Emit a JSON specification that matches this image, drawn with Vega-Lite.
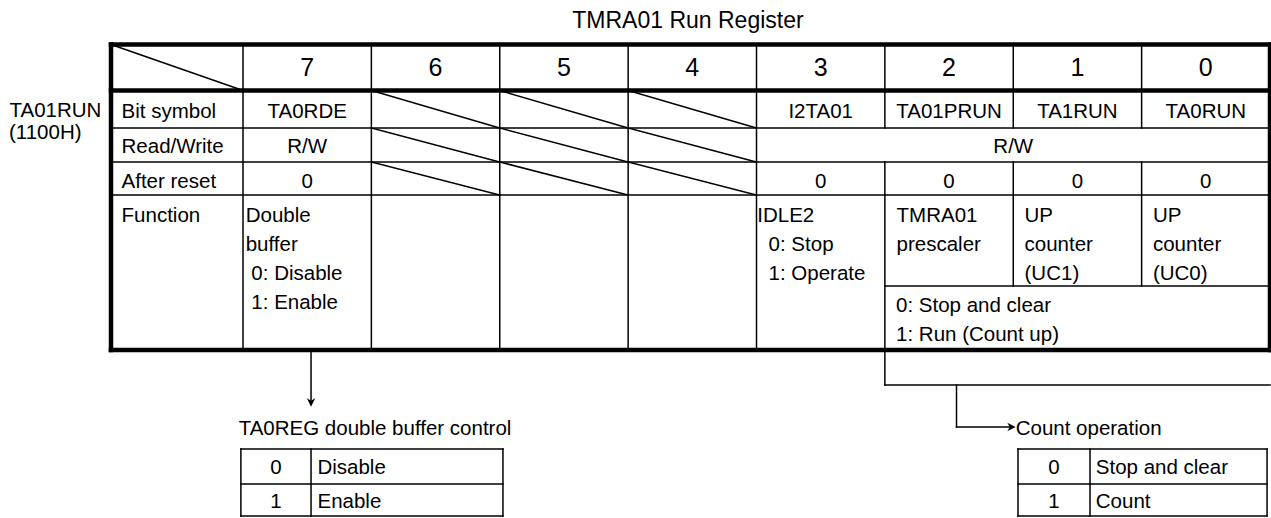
{
  "$schema": "https://vega.github.io/schema/vega-lite/v6.json",
  "width": 1271,
  "height": 518,
  "autosize": "none",
  "padding": 0,
  "background": "white",
  "config": {"view": {"stroke": null}, "text": {"font": "Liberation Sans", "color": "black"}},
  "datasets": {
    "lines": [
      {"x": -1, "y": 0, "x2": 8, "y2": 0, "weight": "bold"},
      {"x": -1, "y": 1, "x2": 8, "y2": 1, "weight": "bold"},
      {"x": -1, "y": 5, "x2": 8, "y2": 5, "weight": "bold"},
      {"x": -1, "y": 0, "x2": -1, "y2": 5, "weight": "bold"},
      {"x": 8, "y": 0, "x2": 8, "y2": 5, "weight": "bold"},
      {"x": -1, "y": 2, "x2": 8, "y2": 2, "weight": "thin"},
      {"x": -1, "y": 3, "x2": 8, "y2": 3, "weight": "thin"},
      {"x": -1, "y": 4, "x2": 8, "y2": 4, "weight": "thin"},
      {"x": 0, "y": 0, "x2": 0, "y2": 5, "weight": "thin"},
      {"x": 1, "y": 0, "x2": 1, "y2": 5, "weight": "thin"},
      {"x": 2, "y": 0, "x2": 2, "y2": 5, "weight": "thin"},
      {"x": 3, "y": 0, "x2": 3, "y2": 5, "weight": "thin"},
      {"x": 4, "y": 0, "x2": 4, "y2": 5, "weight": "thin"},
      {"x": 5, "y": 0, "x2": 5, "y2": 2, "weight": "thin"},
      {"x": 5, "y": 3, "x2": 5, "y2": 5, "weight": "thin"},
      {"x": 6, "y": 0, "x2": 6, "y2": 2, "weight": "thin"},
      {"x": 6, "y": 3, "x2": 6, "y2": 4.587, "weight": "thin"},
      {"x": 7, "y": 0, "x2": 7, "y2": 2, "weight": "thin"},
      {"x": 7, "y": 3, "x2": 7, "y2": 4.587, "weight": "thin"},
      {"x": 5, "y": 4.587, "x2": 8, "y2": 4.587, "weight": "thin"},
      {"x": -1, "y": 0, "x2": 0, "y2": 1, "weight": "thin"},
      {"x": 1, "y": 1, "x2": 2, "y2": 2, "weight": "thin"},
      {"x": 2, "y": 1, "x2": 3, "y2": 2, "weight": "thin"},
      {"x": 3, "y": 1, "x2": 4, "y2": 2, "weight": "thin"},
      {"x": 1, "y": 2, "x2": 2, "y2": 3, "weight": "thin"},
      {"x": 2, "y": 2, "x2": 3, "y2": 3, "weight": "thin"},
      {"x": 3, "y": 2, "x2": 4, "y2": 3, "weight": "thin"},
      {"x": 1, "y": 3, "x2": 2, "y2": 4, "weight": "thin"},
      {"x": 2, "y": 3, "x2": 3, "y2": 4, "weight": "thin"},
      {"x": 3, "y": 3, "x2": 4, "y2": 4, "weight": "thin"},
      {"x": 0.53, "y": 5, "x2": 0.53, "y2": 5.31, "weight": "thin"},
      {"x": 5, "y": 5, "x2": 5, "y2": 5.208, "weight": "thin"},
      {"x": 5, "y": 5.208, "x2": 8, "y2": 5.208, "weight": "thin"},
      {"x": 5.558, "y": 5.208, "x2": 5.558, "y2": 5.458, "weight": "thin"},
      {"x": 5.558, "y": 5.458, "x2": 5.97, "y2": 5.458, "weight": "thin"},
      {"x": -0.016, "y": 5.589, "x2": 2.025, "y2": 5.589, "weight": "thin"},
      {"x": -0.016, "y": 5.798, "x2": 2.025, "y2": 5.798, "weight": "thin"},
      {"x": -0.016, "y": 5.988, "x2": 2.025, "y2": 5.988, "weight": "thin"},
      {"x": -0.016, "y": 5.589, "x2": -0.016, "y2": 5.988, "weight": "thin"},
      {"x": 0.53, "y": 5.589, "x2": 0.53, "y2": 5.988, "weight": "thin"},
      {"x": 2.025, "y": 5.589, "x2": 2.025, "y2": 5.988, "weight": "thin"},
      {"x": 6.037, "y": 5.589, "x2": 7.977, "y2": 5.589, "weight": "thin"},
      {"x": 6.037, "y": 5.798, "x2": 7.977, "y2": 5.798, "weight": "thin"},
      {"x": 6.037, "y": 5.988, "x2": 7.977, "y2": 5.988, "weight": "thin"},
      {"x": 6.037, "y": 5.589, "x2": 6.037, "y2": 5.988, "weight": "thin"},
      {"x": 6.598, "y": 5.589, "x2": 6.598, "y2": 5.988, "weight": "thin"},
      {"x": 7.977, "y": 5.589, "x2": 7.977, "y2": 5.988, "weight": "thin"}
    ],
    "arrowheads": [
      {"x": 0.53, "y": 5.3125, "dir": "down"},
      {"x": 5.986, "y": 5.458, "dir": "right"}
    ],
    "title": [
      {"x": 3.466, "y": -0.371, "label": "TMRA01 Run Register"}
    ],
    "bits": [
      {"x": 0.5, "y": 0.685, "label": "7"},
      {"x": 1.5, "y": 0.685, "label": "6"},
      {"x": 2.5, "y": 0.685, "label": "5"},
      {"x": 3.5, "y": 0.685, "label": "4"},
      {"x": 4.5, "y": 0.685, "label": "3"},
      {"x": 5.5, "y": 0.685, "label": "2"},
      {"x": 6.5, "y": 0.685, "label": "1"},
      {"x": 7.5, "y": 0.685, "label": "0"}
    ],
    "centered": [
      {"x": 0.5, "y": 1.72, "label": "TA0RDE"},
      {"x": 4.5, "y": 1.72, "label": "I2TA01"},
      {"x": 5.5, "y": 1.72, "label": "TA01PRUN"},
      {"x": 6.5, "y": 1.72, "label": "TA1RUN"},
      {"x": 7.5, "y": 1.72, "label": "TA0RUN"},
      {"x": 0.5, "y": 2.745, "label": "R/W"},
      {"x": 6.0, "y": 2.745, "label": "R/W"},
      {"x": 0.5, "y": 3.778, "label": "0"},
      {"x": 4.5, "y": 3.778, "label": "0"},
      {"x": 5.5, "y": 3.778, "label": "0"},
      {"x": 6.5, "y": 3.778, "label": "0"},
      {"x": 7.5, "y": 3.778, "label": "0"},
      {"x": 0.257, "y": 5.741, "label": "0"},
      {"x": 0.257, "y": 5.94, "label": "1"},
      {"x": 6.318, "y": 5.741, "label": "0"},
      {"x": 6.318, "y": 5.94, "label": "1"}
    ],
    "left": [
      {"x": -1.995, "y": 1.705, "label": "TA01RUN"},
      {"x": -2.0, "y": 2.33, "label": "(1100H)"},
      {"x": -0.92, "y": 1.72, "label": "Bit symbol"},
      {"x": -0.92, "y": 2.745, "label": "Read/Write"},
      {"x": -0.92, "y": 3.778, "label": "After reset"},
      {"x": -0.92, "y": 4.172, "label": "Function"},
      {"x": 0.021, "y": 4.172, "label": "Double\nbuffer"},
      {"x": 0.065, "y": 4.5465, "label": "0: Disable\n1: Enable"},
      {"x": 4.006, "y": 4.172, "label": "IDLE2"},
      {"x": 4.094, "y": 4.359, "label": "0: Stop\n1: Operate"},
      {"x": 5.091, "y": 4.172, "label": "TMRA01\nprescaler"},
      {"x": 6.088, "y": 4.172, "label": "UP\ncounter\n(UC1)"},
      {"x": 7.088, "y": 4.172, "label": "UP\ncounter\n(UC0)"},
      {"x": 5.087, "y": 4.753, "label": "0: Stop and clear\n1: Run (Count up)"},
      {"x": -0.033, "y": 5.506, "label": "TA0REG double buffer control"},
      {"x": 6.019, "y": 5.506, "label": "Count operation"},
      {"x": 0.58, "y": 5.741, "label": "Disable"},
      {"x": 0.58, "y": 5.94, "label": "Enable"},
      {"x": 6.643, "y": 5.741, "label": "Stop and clear"},
      {"x": 6.643, "y": 5.94, "label": "Count"}
    ]
  },
  "encoding": {
    "x": {"field": "x", "type": "quantitative", "axis": null,
          "scale": {"domain": [-2, -1, 0, 8], "range": [9, 111, 243, 1270], "nice": false, "zero": false}},
    "y": {"field": "y", "type": "quantitative", "axis": null,
          "scale": {"domain": [-1, 0, 1, 2, 3, 4, 5, 6], "range": [0, 44.5, 90.5, 128, 162, 195, 350, 518], "nice": false, "zero": false}}
  },
  "layer": [
    {
      "data": {"name": "lines"},
      "mark": {"type": "rule", "color": "black", "strokeCap": "square"},
      "encoding": {
        "x2": {"field": "x2"},
        "y2": {"field": "y2"},
        "strokeWidth": {"field": "weight", "type": "nominal", "legend": null,
                        "scale": {"domain": ["bold", "thin"], "range": [4.5, 1.5]}}
      }
    },
    {
      "data": {"name": "arrowheads"},
      "mark": {"type": "point", "filled": true, "color": "black", "opacity": 1, "size": 70, "strokeWidth": 0},
      "encoding": {
        "shape": {"field": "dir", "type": "nominal", "legend": null,
                  "scale": {"domain": ["down", "right"], "range": ["M-1,-1L0,1L1,-1L0,-0.4Z", "M-1,-1L1,0L-1,1L-0.4,0Z"]}}
      }
    },
    {
      "data": {"name": "title"},
      "mark": {"type": "text", "fontSize": 23, "align": "center", "baseline": "alphabetic"},
      "encoding": {"text": {"field": "label", "type": "nominal"}}
    },
    {
      "data": {"name": "bits"},
      "mark": {"type": "text", "fontSize": 25, "align": "center", "baseline": "alphabetic"},
      "encoding": {"text": {"field": "label", "type": "nominal"}}
    },
    {
      "data": {"name": "centered"},
      "mark": {"type": "text", "fontSize": 20.5, "align": "center", "baseline": "alphabetic"},
      "encoding": {"text": {"field": "label", "type": "nominal"}}
    },
    {
      "data": {"name": "left"},
      "mark": {"type": "text", "fontSize": 20.5, "align": "left", "baseline": "alphabetic", "lineBreak": "\n", "lineHeight": 29},
      "encoding": {"text": {"field": "label", "type": "nominal"}}
    }
  ]
}
